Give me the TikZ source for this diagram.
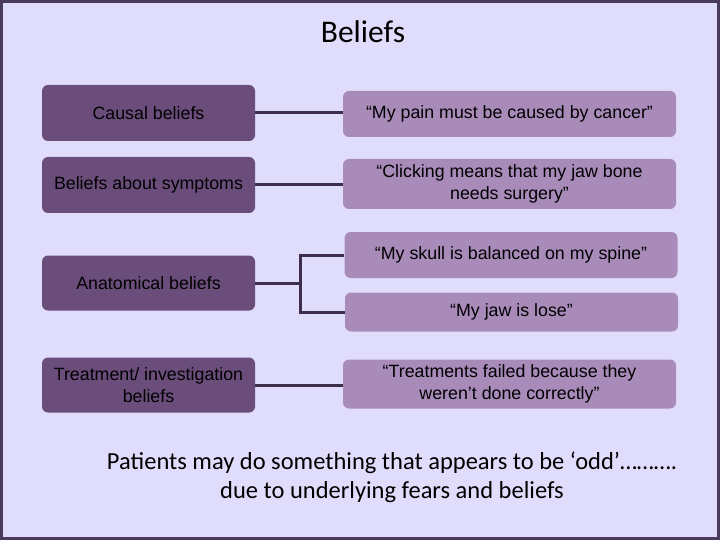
\documentclass[tikz,border=0pt]{standalone}
\usepackage{fontspec}
\setmainfont{Liberation Sans}
\newfontfamily\calib{Carlito}
\definecolor{bgc}{HTML}{E0DDFC}
\definecolor{frame}{HTML}{4A3A5C}
\definecolor{darkbox}{HTML}{6B4D7B}
\definecolor{lightbox}{HTML}{A98BBA}
\definecolor{linec}{HTML}{3D2F4C}
\tikzset{
  catbox/.style={fill=darkbox, rounded corners=6pt, minimum width=213pt, inner sep=2pt, align=center, font=\fontsize{17.8}{21.5}\selectfont, text=black},
  quotebox/.style={fill=lightbox, rounded corners=6pt, minimum width=333pt, inner sep=2pt, align=center, font=\fontsize{17.8}{21.5}\selectfont, text=black},
  conn/.style={draw=linec, line width=3pt},
}
\begin{document}
\begin{tikzpicture}[x=1pt,y=-1pt]
\useasboundingbox (0,0) rectangle (720,540);
\fill[bgc] (0,0) rectangle (720,540);
\draw[frame, line width=3pt] (1.5,1.5) rectangle (718.5,538.5);
\node[font=\calib\fontsize{31.5}{36}\selectfont] (title) at (363,32) {Beliefs};

\node[catbox, minimum height=56pt] (c1) at (148.5,113) {Causal beliefs};
\node[catbox, minimum height=56pt] (c2) at (148.5,185) {Beliefs about symptoms};
\node[catbox, minimum height=55pt] (c3) at (148.5,283) {Anatomical beliefs};
\node[catbox, minimum height=55pt] (c4) at (148.5,385) {Treatment/ investigation\\beliefs};

\node[quotebox, minimum height=46pt] (q1) at (509.5,114) {“My pain must be caused by cancer”};
\node[quotebox, minimum height=50pt] (q2) at (509.5,184) {“Clicking means that my jaw bone\\needs surgery”};
\node[quotebox, minimum height=46pt] (q3) at (511,255) {“My skull is balanced on my spine”};
\node[quotebox, minimum height=39pt] (q4) at (511.5,312) {“My jaw is lose”};
\node[quotebox, minimum height=49pt] (q5) at (509.5,384) {“Treatments failed because they\\weren’t done correctly”};

\draw[conn] (c1.east) -- (c1.east -| q1.west);
\draw[conn] (c2.east) -- (c2.east -| q2.west);
\coordinate (fork) at (300,283);
\draw[conn] (c3.east) -- (fork);
\draw[conn] (q3.west) -| (fork) |- (q4.west);
\draw[conn] (c4.east) -- (c4.east -| q5.west);

\node[font=\calib\fontsize{24.5}{29}\selectfont, align=center] (note) at (392,477) {Patients may do something that appears to be ‘odd’……….\\due to underlying fears and beliefs};
\end{tikzpicture}
\end{document}
